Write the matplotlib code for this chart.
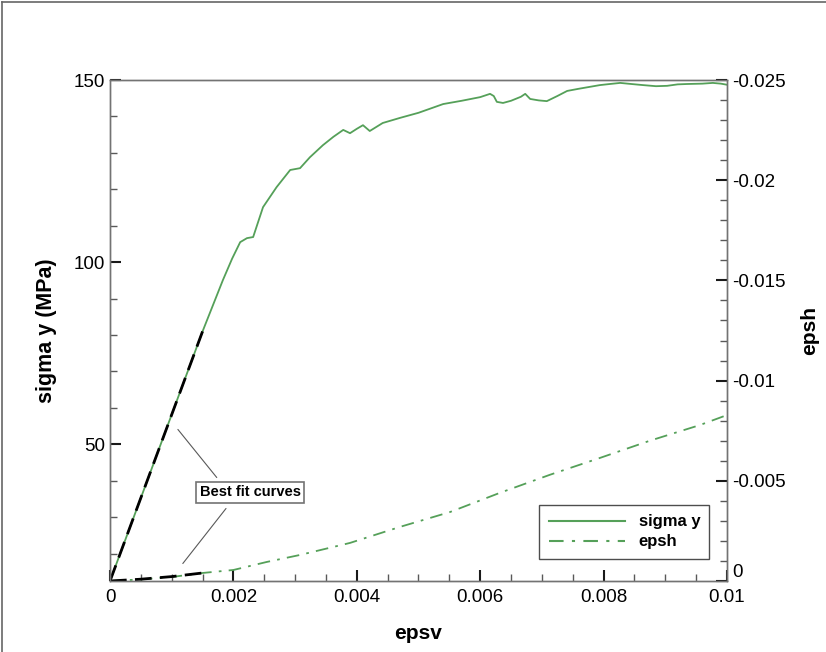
import numpy as np
import matplotlib.pyplot as plt
from matplotlib.lines import Line2D

plt.rcParams['font.family'] = ['Liberation Sans', 'DejaVu Sans']
plt.rcParams['axes.unicode_minus'] = False

# sigma y (MPa) vs epsv
epsv_sig = [0.0, 0.0005, 0.0010, 0.0015, 0.00183, 0.00198, 0.00211, 0.00222,
            0.00232, 0.00248, 0.0027, 0.00292, 0.00308, 0.00324, 0.00345,
            0.00362, 0.00378, 0.00389, 0.0040, 0.0041, 0.00421, 0.00442,
            0.0047, 0.0050, 0.0054, 0.0057, 0.0060, 0.00616, 0.00622,
            0.00627, 0.00637, 0.0065, 0.00666, 0.00673, 0.00681, 0.00695,
            0.00708, 0.00725, 0.00741, 0.0076, 0.00794, 0.0081, 0.00827,
            0.00845, 0.00864, 0.00885, 0.00903, 0.0092, 0.00935, 0.0096,
            0.00977, 0.0099, 0.0100]
sigma_y = [12.5, 35.3, 58.2, 81.0, 95.1, 101.0, 105.5, 106.6,
           106.9, 115.1, 120.6, 125.3, 125.8, 128.8, 132.1,
           134.4, 136.3, 135.4, 136.6, 137.6, 136.0, 138.2,
           139.6, 141.0, 143.4, 144.3, 145.3, 146.2, 145.6,
           144.0, 143.7, 144.3, 145.4, 146.2, 144.8, 144.4,
           144.2, 145.6, 147.0, 147.6, 148.6, 148.9, 149.2,
           148.9, 148.6, 148.3, 148.4, 148.8, 148.9, 149.0,
           149.2, 149.0, 148.7]

# epsh vs epsv
epsv_h = [0.0, 0.0005, 0.0010, 0.0015, 0.0020, 0.00254, 0.00308, 0.00389,
          0.0047, 0.00551, 0.00632, 0.00713, 0.00794, 0.00875, 0.00956, 0.0100]
epsh = [0.0, -0.00008, -0.0002, -0.0004, -0.00055, -0.00095, -0.0013, -0.0019,
        -0.0027, -0.00344, -0.0044, -0.0053, -0.00614, -0.0070, -0.00778, -0.00828]

# best fit curves
fit_x = [0.0, 0.0015]
fit_sigma = [12.5, 81.0]
fit_hx = [0.0, 0.0005, 0.0010, 0.0015]
fit_h = [0.0, -0.00009, -0.00022, -0.0004]

green = '#55a059'

fig = plt.figure(figsize=(8.26, 6.52), dpi=100)
ax = fig.add_axes([0.1332, 0.1089, 0.7469, 0.7684])
ax2 = ax.twinx()

ax.plot(epsv_sig, sigma_y, color=green, lw=1.3)
ax.plot(fit_x, fit_sigma, color='black', lw=2, dashes=(6, 3))
ax2.plot(epsv_h, epsh, color=green, lw=1.3, dashes=(7, 4, 1.5, 4))
ax2.plot(fit_hx, fit_h, color='black', lw=2, dashes=(6, 3))

ax.set_xlim(0, 0.01)
ax.set_ylim(12.5, 150)
ax2.set_ylim(0, -0.025)

ax.set_xticks([0, 0.002, 0.004, 0.006, 0.008, 0.01])
ax.set_xticklabels(['0', '0.002', '0.004', '0.006', '0.008', '0.01'])
ax.set_xticks(np.arange(0, 0.01001, 0.0005), minor=True)
ax.set_yticks([50, 100, 150])
ax.set_yticks(np.arange(20, 151, 10), minor=True)
ax2.set_yticks([0, -0.005, -0.01, -0.015, -0.02, -0.025])
ax2.set_yticklabels(['0', '-0.005', '-0.01', '-0.015', '-0.02', '-0.025'])
ax2.set_yticks(np.arange(0, -0.0251, -0.001), minor=True)

for a in (ax, ax2):
    a.tick_params(which='major', direction='in', length=8, width=1.5, labelsize=13.5, color='0.1')
    a.tick_params(which='minor', direction='in', length=5, width=1, color='0.35')
    for s in a.spines.values():
        s.set_color('0.45')
        s.set_linewidth(1)
ax.tick_params(axis='x', pad=6)
ax2.tick_params(axis='y', pad=4)
# the right "0" sits a little above the corner, clear of "0.01"
ax2.get_yticklabels()[0].set_va('bottom')

ax.set_xlabel('epsv', fontsize=15, fontweight='bold', labelpad=13)
ax.set_ylabel('sigma y (MPa)', fontsize=15.5, fontweight='bold', labelpad=12)
ax2.set_ylabel('epsh', fontsize=15, fontweight='bold', labelpad=10, rotation=90)

handles = [Line2D([], [], color=green, lw=1.5),
           Line2D([], [], color=green, lw=1.5, dashes=(7, 4, 1.5, 4))]
leg = ax2.legend(handles, ['sigma y', 'epsh'], loc='lower right',
                 bbox_to_anchor=(0.985, 0.028), fancybox=False, framealpha=1,
                 edgecolor='0.3', handlelength=4.6, borderpad=0.55,
                 labelspacing=0.3, prop={'weight': 'bold', 'size': 12})
leg.get_frame().set_linewidth(1)

ax.text(0.00227, 36.8, 'Best fit curves', fontsize=10.5, fontweight='bold',
        ha='center', va='center',
        bbox=dict(boxstyle='square,pad=0.22', facecolor='white', edgecolor='0.45', lw=1.2))
ax.annotate('', xy=(0.0011, 54.1), xytext=(0.00173, 40.9),
            arrowprops=dict(arrowstyle='-', color='0.35', lw=0.8, shrinkA=0, shrinkB=0))
ax.annotate('', xy=(0.00118, 17.3), xytext=(0.00188, 32.4),
            arrowprops=dict(arrowstyle='-', color='0.35', lw=0.8, shrinkA=0, shrinkB=0))

# frame lines around the picture (top and left only)
fig.add_artist(Line2D([0.003, 1], [0.997, 0.997], transform=fig.transFigure, color='0.4', lw=1.2))
fig.add_artist(Line2D([0.003, 0.003], [0, 0.997], transform=fig.transFigure, color='0.4', lw=1.2))

fig.savefig('out.png', dpi=100)
